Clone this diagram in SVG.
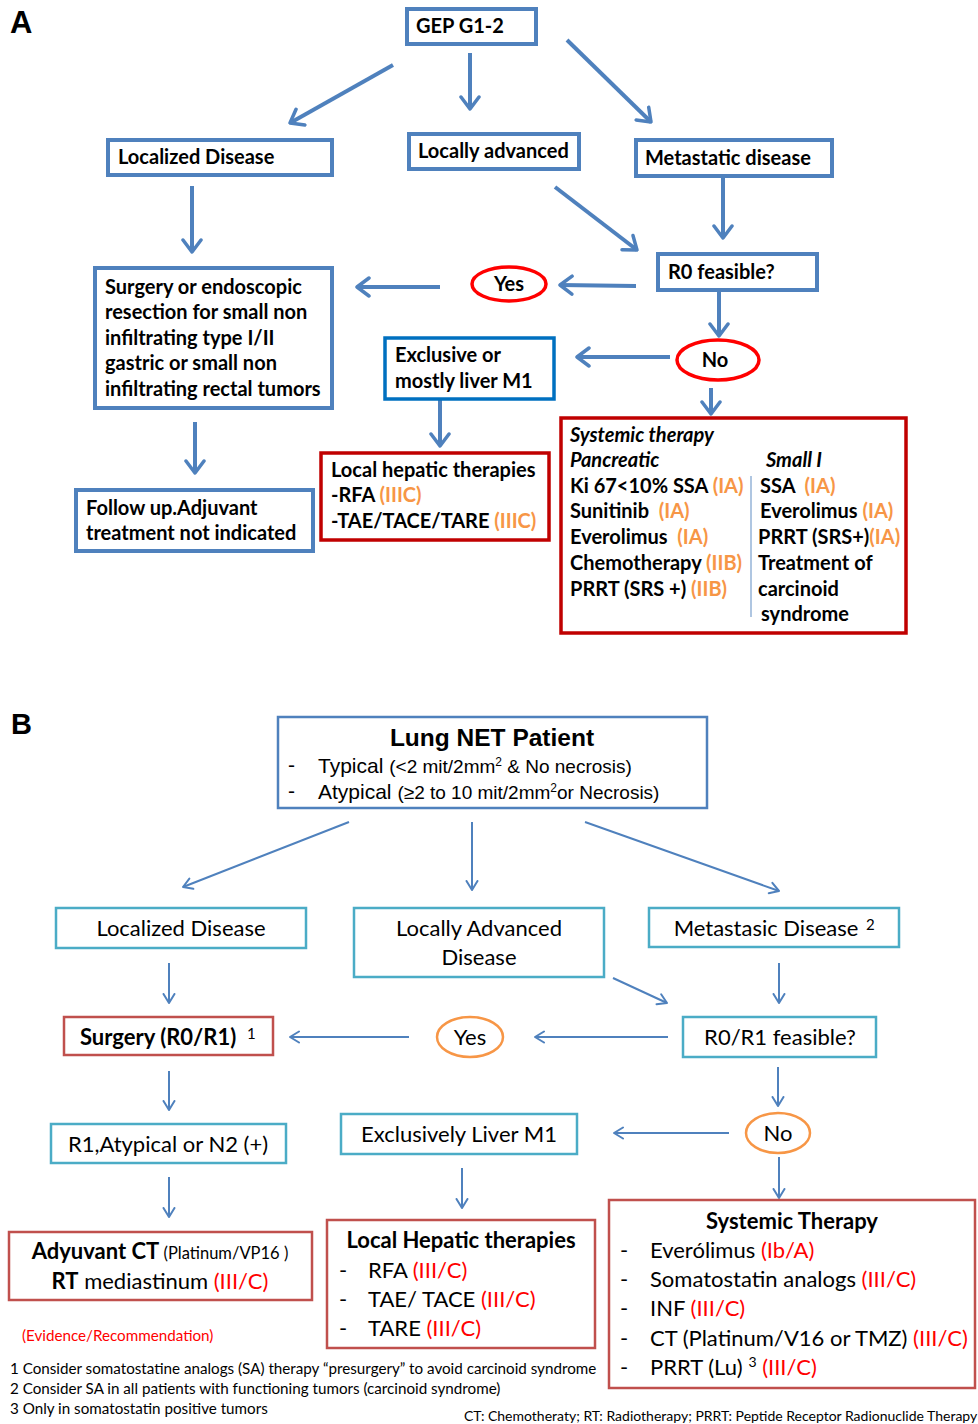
<svg xmlns="http://www.w3.org/2000/svg" width="978" height="1424" viewBox="0 0 978 1424">
<defs>
<style>
.bA{fill:#fff;stroke:#4F81BD;stroke-width:4}
.bX{fill:#fff;stroke:#0070C0;stroke-width:3.5}
.rA{fill:#fff;stroke:#C00000;stroke-width:3.5}
.eA{fill:#fff;stroke:#FF0000;stroke-width:3.5}
.tA{font-family:Lato,"Liberation Sans",sans-serif;font-weight:bold;font-size:20px;fill:#000}
.it{font-style:italic}
.or{fill:#F79646}
.bB{fill:#fff;stroke:#4F81BD;stroke-width:2.5}
.cB{fill:#fff;stroke:#4BACC6;stroke-width:2.5}
.rB{fill:#fff;stroke:#C0504D;stroke-width:2.5}
.oB{fill:#fff;stroke:#F79646;stroke-width:2.5}
.tB{font-family:Lato,"Liberation Sans",sans-serif;font-size:22px;fill:#000}
.sup{font-family:Lato,"Liberation Sans",sans-serif;font-size:15px;fill:#000}
.ar{font-family:"Liberation Sans",Arial,sans-serif;fill:#000}
.bd{font-weight:bold}
.fn{font-family:Lato,"Liberation Sans",sans-serif;font-size:15.2px;fill:#000}
.red{fill:#FF0000}
.cA{fill:none;stroke:#4F81BD;stroke-width:4;marker-end:url(#hA)}
.cB2{fill:none;stroke:#4F81BD;stroke-width:2;marker-end:url(#hB)}
</style>
<marker id="hA" markerUnits="userSpaceOnUse" viewBox="0 0 16 22" markerWidth="16" markerHeight="22" refX="14" refY="11" orient="auto">
<path d="M2,2 L14,11 L2,20" fill="none" stroke="#4F81BD" stroke-width="3.5" stroke-linecap="round" stroke-linejoin="round"/>
</marker>
<marker id="hB" markerUnits="userSpaceOnUse" viewBox="0 0 12 14" markerWidth="12" markerHeight="14" refX="10.5" refY="7" orient="auto">
<path d="M1.5,1.5 L10.5,7 L1.5,12.5" fill="none" stroke="#4F81BD" stroke-width="2" stroke-linecap="round" stroke-linejoin="round"/>
</marker>
</defs>
<rect width="978" height="1424" fill="#fff"/>

<!-- Panel A -->
<text x="10" y="33" font-family="Liberation Sans,Arial,sans-serif" font-weight="bold" font-size="31">A</text>

<g id="connectorsA">
<line class="cA" x1="393" y1="65" x2="290" y2="123"/>
<line class="cA" x1="470" y1="53" x2="470" y2="109"/>
<line class="cA" x1="567" y1="40" x2="651" y2="122"/>
<line class="cA" x1="192" y1="186" x2="192" y2="252"/>
<line class="cA" x1="723" y1="177" x2="723" y2="238"/>
<line class="cA" x1="555" y1="187" x2="637" y2="250"/>
<line class="cA" x1="636" y1="286" x2="560" y2="285"/>
<line class="cA" x1="440" y1="287" x2="357" y2="287"/>
<line class="cA" x1="719" y1="291" x2="719" y2="336"/>
<line class="cA" x1="670" y1="357" x2="577" y2="357"/>
<line class="cA" x1="440" y1="400" x2="440" y2="446"/>
<line class="cA" x1="711" y1="388" x2="711" y2="414"/>
<line class="cA" x1="195" y1="422" x2="195" y2="473"/>
</g>

<g id="gep"><rect class="bA" x="407" y="9" width="129" height="35"/><text class="tA" x="416" y="33">GEP G1-2</text></g>
<g id="localizedA"><rect class="bA" x="108" y="140" width="224" height="35"/><text class="tA" x="118" y="164">Localized Disease</text></g>
<g id="locallyA"><rect class="bA" x="409" y="134" width="170" height="35"/><text class="tA" x="418" y="158">Locally advanced</text></g>
<g id="metastaticA"><rect class="bA" x="636" y="140" width="196" height="36"/><text class="tA" x="645" y="165">Metastatic disease</text></g>
<g id="r0A"><rect class="bA" x="658" y="254" width="159" height="36"/><text class="tA" x="668" y="279">R0 feasible?</text></g>
<g id="yesA"><ellipse class="eA" cx="509" cy="284" rx="37" ry="17"/><text class="tA" x="509" y="291" text-anchor="middle">Yes</text></g>
<g id="noA"><ellipse class="eA" cx="718" cy="360" rx="41" ry="20"/><text class="tA" x="715" y="367" text-anchor="middle">No</text></g>
<g id="surgeryA"><rect class="bA" x="95" y="268" width="237" height="140"/>
<text class="tA" x="105" y="294">Surgery or endoscopic</text>
<text class="tA" x="105" y="319">resection for small non</text>
<text class="tA" x="105" y="345">infiltrating type I/II</text>
<text class="tA" x="105" y="370">gastric or small non</text>
<text class="tA" x="105" y="396">infiltrating rectal tumors</text></g>
<g id="exclusiveA"><rect class="bX" x="385" y="338" width="169" height="61"/>
<text class="tA" x="395" y="362">Exclusive or</text>
<text class="tA" x="395" y="388">mostly liver M1</text></g>
<g id="followA"><rect class="bA" x="76" y="490" width="237" height="61"/>
<text class="tA" x="86" y="515">Follow up.Adjuvant</text>
<text class="tA" x="86" y="540">treatment not indicated</text></g>
<g id="hepaticA"><rect class="rA" x="321" y="453" width="228" height="87"/>
<text class="tA" x="331" y="477">Local hepatic therapies</text>
<text class="tA" x="331" y="502" xml:space="preserve">-RFA <tspan class="or">(IIIC)</tspan></text>
<text class="tA" x="331" y="528" xml:space="preserve">-TAE/TACE/TARE <tspan class="or">(IIIC)</tspan></text></g>
<g id="systemicA"><rect class="rA" x="561" y="418" width="345" height="215"/>
<line x1="751" y1="476" x2="751" y2="617" stroke="#95B3D7" stroke-width="1.5"/>
<text class="tA it" x="570" y="442">Systemic therapy</text>
<text class="tA it" x="570" y="467">Pancreatic</text>
<text class="tA it" x="766" y="467">Small I</text>
<text class="tA" x="570" y="493" xml:space="preserve">Ki 67&lt;10% SSA <tspan class="or">(IA)</tspan></text>
<text class="tA" x="570" y="518" xml:space="preserve">Sunitinib  <tspan class="or">(IA)</tspan></text>
<text class="tA" x="570" y="544" xml:space="preserve">Everolimus  <tspan class="or">(IA)</tspan></text>
<text class="tA" x="570" y="570" xml:space="preserve">Chemotherapy <tspan class="or">(IIB)</tspan></text>
<text class="tA" x="570" y="596" xml:space="preserve">PRRT (SRS +) <tspan class="or">(IIB)</tspan></text>
<text class="tA" x="760" y="493" xml:space="preserve">SSA  <tspan class="or">(IA)</tspan></text>
<text class="tA" x="760" y="518" xml:space="preserve">Everolimus <tspan class="or">(IA)</tspan></text>
<text class="tA" x="758" y="544" xml:space="preserve">PRRT (SRS+)<tspan class="or">(IA)</tspan></text>
<text class="tA" x="758" y="570">Treatment of</text>
<text class="tA" x="758" y="596">carcinoid</text>
<text class="tA" x="761" y="621">syndrome</text></g>

<!-- Panel B -->
<text x="11" y="734" font-family="Liberation Sans,Arial,sans-serif" font-weight="bold" font-size="29">B</text>

<g id="connectorsB">
<line class="cB2" x1="349" y1="822" x2="183" y2="887"/>
<line class="cB2" x1="472" y1="822" x2="472" y2="890"/>
<line class="cB2" x1="585" y1="822" x2="779" y2="891"/>
<line class="cB2" x1="169" y1="963" x2="169" y2="1003"/>
<line class="cB2" x1="779" y1="963" x2="779" y2="1003"/>
<line class="cB2" x1="613" y1="978" x2="667" y2="1003"/>
<line class="cB2" x1="668" y1="1037" x2="535" y2="1037"/>
<line class="cB2" x1="409" y1="1037" x2="290" y2="1037"/>
<line class="cB2" x1="169" y1="1071" x2="169" y2="1110"/>
<line class="cB2" x1="778" y1="1067" x2="778" y2="1106"/>
<line class="cB2" x1="729" y1="1133" x2="614" y2="1133"/>
<line class="cB2" x1="462" y1="1168" x2="462" y2="1208"/>
<line class="cB2" x1="169" y1="1177" x2="169" y2="1217"/>
<line class="cB2" x1="779" y1="1157" x2="779" y2="1198"/>
</g>

<g id="lungNet"><rect class="bB" x="278" y="717" width="429" height="91"/>
<text class="ar bd" x="492" y="746" font-size="24.5" text-anchor="middle">Lung NET Patient</text>
<text class="ar" x="288" y="772" font-size="21">-</text>
<text class="ar" x="318" y="773" font-size="21">Typical <tspan font-size="19">(&lt;2 mit/2mm</tspan><tspan font-size="12" dy="-7">2</tspan><tspan font-size="19" dy="7"> &amp; No necrosis)</tspan></text>
<text class="ar" x="288" y="798" font-size="21">-</text>
<text class="ar" x="318" y="799" font-size="21">Atypical <tspan font-size="19">(≥2 to 10 mit/2mm</tspan><tspan font-size="12" dy="-7">2</tspan><tspan font-size="19" dy="7">or Necrosis)</tspan></text></g>
<g id="localizedB"><rect class="cB" x="56" y="908" width="250" height="40"/><text class="tB" x="181" y="936" text-anchor="middle">Localized Disease</text></g>
<g id="locallyB"><rect class="cB" x="354" y="908" width="250" height="69"/>
<text class="tB" x="479" y="936" text-anchor="middle">Locally Advanced</text>
<text class="tB" x="479" y="965" text-anchor="middle">Disease</text></g>
<g id="metastasicB"><rect class="cB" x="649" y="908" width="250" height="39"/><text class="tB" x="766" y="936" text-anchor="middle">Metastasic Disease</text><text class="sup" x="866" y="930">2</text></g>
<g id="r0r1B"><rect class="cB" x="683" y="1017" width="193" height="40"/><text class="tB" x="780" y="1045" text-anchor="middle">R0/R1 feasible?</text></g>
<g id="yesB"><ellipse class="oB" cx="470" cy="1037" rx="33" ry="20"/><text class="tB" x="470" y="1045" text-anchor="middle">Yes</text></g>
<g id="surgeryB"><rect class="rB" x="64" y="1017" width="209" height="38"/><text class="tB bd" x="80" y="1045">Surgery (R0/R1)</text><text class="sup" x="247" y="1039">1</text></g>
<g id="noB"><ellipse class="oB" cx="778" cy="1133" rx="32" ry="20"/><text class="tB" x="778" y="1141" text-anchor="middle">No</text></g>
<g id="exclusivelyB"><rect class="cB" x="341" y="1114" width="236" height="40"/><text class="tB" x="459" y="1142" text-anchor="middle">Exclusively Liver M1</text></g>
<g id="r1B"><rect class="cB" x="51" y="1124" width="235" height="39"/><text class="tB" x="168" y="1152" text-anchor="middle">R1,Atypical or N2 (+)</text></g>
<g id="adyuvantB"><rect class="rB" x="9" y="1232" width="303" height="68"/>
<text class="tB" x="160" y="1259" text-anchor="middle"><tspan class="bd">Adyuvant CT</tspan><tspan font-size="16.5"> (Platinum/VP16 )</tspan></text>
<text class="tB" x="160" y="1289" text-anchor="middle"><tspan class="bd">RT</tspan> mediastinum <tspan class="red">(III/C)</tspan></text></g>
<g id="hepaticB"><rect class="rB" x="327" y="1220" width="268" height="128"/>
<text class="tB bd" x="461" y="1248" text-anchor="middle">Local Hepatic therapies</text>
<text class="tB" x="339" y="1278">-</text><text class="tB" x="368" y="1278">RFA <tspan class="red">(III/C)</tspan></text>
<text class="tB" x="339" y="1307">-</text><text class="tB" x="368" y="1307">TAE/ TACE <tspan class="red">(III/C)</tspan></text>
<text class="tB" x="339" y="1336">-</text><text class="tB" x="368" y="1336">TARE <tspan class="red">(III/C)</tspan></text></g>
<g id="systemicB"><rect class="rB" x="609" y="1200" width="366" height="188"/>
<text class="tB bd" x="792" y="1229" text-anchor="middle">Systemic Therapy</text>
<text class="tB" x="620" y="1258">-</text><text class="tB" x="650" y="1258">Everólimus <tspan class="red">(Ib/A)</tspan></text>
<text class="tB" x="620" y="1287">-</text><text class="tB" x="650" y="1287">Somatostatin analogs <tspan class="red">(III/C)</tspan></text>
<text class="tB" x="620" y="1316">-</text><text class="tB" x="650" y="1316">INF <tspan class="red">(III/C)</tspan></text>
<text class="tB" x="620" y="1346">-</text><text class="tB" x="650" y="1346">CT (Platinum/V16 or TMZ) <tspan class="red">(III/C)</tspan></text>
<text class="tB" x="620" y="1375">-</text><text class="tB" x="650" y="1375">PRRT (Lu) <tspan font-size="14" dy="-8">3</tspan><tspan class="red" dy="8"> (III/C)</tspan></text></g>

<g id="notes">
<text class="fn" x="22" y="1341" style="fill:#FF0000">(Evidence/Recommendation)</text>
<text class="fn" x="10" y="1374">1 Consider somatostatine analogs (SA) therapy “presurgery” to avoid carcinoid syndrome</text>
<text class="fn" x="10" y="1394">2 Consider  SA in all patients with functioning tumors (carcinoid syndrome)</text>
<text class="fn" x="10" y="1414">3 Only in somatostatin positive tumors</text>
<text class="fn" x="464" y="1421" style="font-size:14px">CT: Chemotheraty; RT: Radiotherapy; PRRT: Peptide Receptor Radionuclide Therapy</text>
</g>
</svg>
